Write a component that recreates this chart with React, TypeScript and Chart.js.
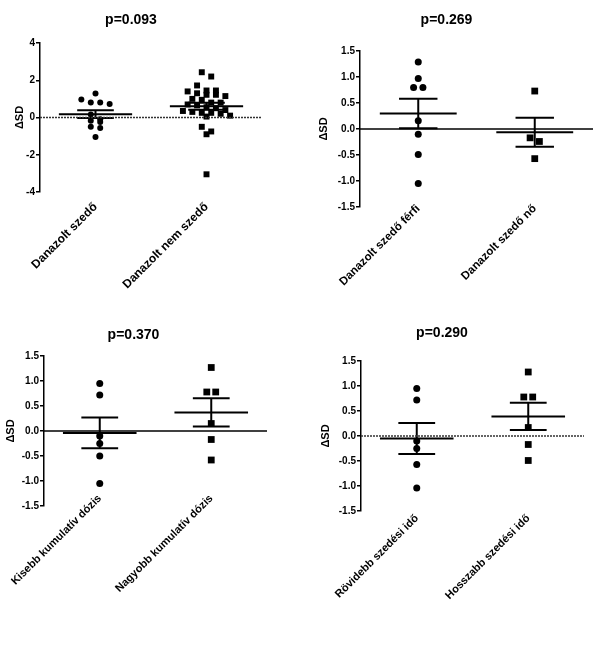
import React, { useEffect, useRef } from 'react';
import { Chart, registerables } from 'chart.js';

Chart.register(...registerables);

// ---------- data ----------
const titles = ['p=0.093', 'p=0.269', 'p=0.370', 'p=0.290'];

const labels1 = ['Danazolt szedő', 'Danazolt nem szedő'];
const labels2 = ['Danazolt szedő férfi', 'Danazolt szedő nő'];
const labels3 = ['Kisebb kumulatív dózis', 'Nagyobb kumulatív dózis'];
const labels4 = ['Rövidebb szedési idő', 'Hosszabb szedési idő'];

const danazoltSzedo = [1.29, 0.97, 0.8, 0.8, 0.73, 0.16, -0.1, -0.17, -0.24, -0.49, -0.57, -1.05];
const danazoltNemSzedo = [
  2.43, 2.2, 1.72, 1.45, 1.4, 1.45, 1.22, 1.22, 1.3, 1.15, 1.0, 0.95, 0.8, 0.8, 0.7,
  0.65, 0.55, 0.5, 0.4, 0.35, 0.3, 0.25, 0.2, 0.25, 0.1, 0.05, -0.75, -0.9, -0.5, -3.05,
];

const szedoFerfi = [1.29, 0.97, 0.8, 0.8, 0.16, -0.1, -0.49, -1.05];
const szedoNo = [0.73, -0.17, -0.24, -0.57];

const kisebbDozis = [0.95, 0.72, -0.1, -0.25, -0.5, -1.05];
const nagyobbDozis = [1.27, 0.78, 0.78, 0.15, -0.17, -0.58];

const rovidebbIdo = [0.95, 0.72, -0.1, -0.25, -0.57, -1.04];
const hosszabbIdo = [1.28, 0.78, 0.78, 0.17, -0.17, -0.49];

const yTicks1 = { min: -4, max: 4, step: 2, decimals: 0 };
const yTicks2 = { min: -1.5, max: 1.5, step: 0.5, decimals: 1 };

// ---------- helpers ----------
const mean = (a: number[]) => a.reduce((s, v) => s + v, 0) / a.length;
const sem = (a: number[]) => {
  const m = mean(a);
  const v = a.reduce((s, x) => s + (x - m) * (x - m), 0) / (a.length - 1);
  return Math.sqrt(v) / Math.sqrt(a.length);
};

function swarm(vals: number[], center: number, binY: number, stepX: number) {
  const sorted = [...vals].sort((a, b) => b - a);
  const pts: { x: number; y: number }[] = [];
  let i = 0;
  while (i < sorted.length) {
    let j = i;
    while (j < sorted.length && sorted[i] - sorted[j] < binY) j++;
    const n = j - i;
    for (let k = 0; k < n; k++) {
      pts.push({ x: center + (k - (n - 1) / 2) * stepX, y: sorted[i + k] });
    }
    i = j;
  }
  return pts;
}

type Panel = {
  title: string;
  labels: string[];
  groups: number[][];
  yt: { min: number; max: number; step: number; decimals: number };
  left: number;
  top: number;
  width: number;
  height: number;
  areaLeft: number;
  areaRight: number;
  areaTop: number;
  areaBottom: number;
  titleCenter: number;
  yTitleCenter: number;
  labelPad: number;
  labelSize: number;
  binY: number;
  stepX: number;
  circleR: number;
  rectR: number;
  zeroDashed: boolean;
};

const panels: Panel[] = [
  {
    title: titles[0], labels: labels1, groups: [danazoltSzedo, danazoltNemSzedo], yt: yTicks1,
    left: 0, top: 0, width: 300, height: 320,
    areaLeft: 40, areaRight: 262, areaTop: 43, areaBottom: 192, titleCenter: 20.5, yTitleCenter: 20,
    labelPad: 8, labelSize: 12, binY: 0.3, stepX: 0.085, circleR: 3, rectR: 4.2, zeroDashed: true,
  },
  {
    title: titles[1], labels: labels2, groups: [szedoFerfi, szedoNo], yt: yTicks2,
    left: 300, top: 0, width: 309, height: 320,
    areaLeft: 60, areaRight: 293, areaTop: 51, areaBottom: 207, titleCenter: 20.5, yTitleCenter: 23.5,
    labelPad: -5, labelSize: 11.5, binY: 0.12, stepX: 0.08, circleR: 3.5, rectR: 4.8, zeroDashed: false,
  },
  {
    title: titles[2], labels: labels3, groups: [kisebbDozis, nagyobbDozis], yt: yTicks2,
    left: 0, top: 320, width: 300, height: 332,
    areaLeft: 44, areaRight: 267, areaTop: 36, areaBottom: 186, titleCenter: 15, yTitleCenter: 10.5,
    labelPad: -14, labelSize: 11, binY: 0.12, stepX: 0.08, circleR: 3.5, rectR: 4.8, zeroDashed: false,
  },
  {
    title: titles[3], labels: labels4, groups: [rovidebbIdo, hosszabbIdo], yt: yTicks2,
    left: 300, top: 320, width: 309, height: 332,
    areaLeft: 61, areaRight: 284, areaTop: 41, areaBottom: 191, titleCenter: 13.5, yTitleCenter: 26,
    labelPad: 1, labelSize: 11, binY: 0.12, stepX: 0.08, circleR: 3.5, rectR: 4.8, zeroDashed: true,
  },
];

const FONT = 'Arial, "Liberation Sans", Helvetica, sans-serif';

function lineDs(data: { x: number; y: number }[], width = 2, color = '#000', dash: number[] = []) {
  return {
    data,
    showLine: true,
    borderColor: color,
    borderWidth: width,
    borderDash: dash,
    pointRadius: 0,
    pointHoverRadius: 0,
    fill: false,
  };
}

function buildConfig(p: Panel): any {
  const datasets: any[] = [];
  datasets.push(
    lineDs([{ x: -0.5, y: 0 }, { x: 1.5, y: 0 }], 1.5, p.zeroDashed ? '#333' : '#000', p.zeroDashed ? [2, 1] : [])
  );
  p.groups.forEach((vals, gi) => {
    datasets.push({
      data: swarm(vals, gi, p.binY, p.stepX),
      pointStyle: gi === 0 ? 'circle' : 'rect',
      pointRadius: gi === 0 ? p.circleR : p.rectR,
      pointHoverRadius: gi === 0 ? p.circleR : p.rectR,
      backgroundColor: '#000',
      borderColor: '#000',
      borderWidth: 0,
      showLine: false,
    });
  });
  p.groups.forEach((vals, gi) => {
    const m = mean(vals);
    const s = sem(vals);
    datasets.push(lineDs([{ x: gi - 0.33, y: m }, { x: gi + 0.33, y: m }]));
    datasets.push(lineDs([{ x: gi, y: m - s }, { x: gi, y: m + s }]));
    datasets.push(lineDs([{ x: gi - 0.165, y: m + s }, { x: gi + 0.165, y: m + s }]));
    datasets.push(lineDs([{ x: gi - 0.165, y: m - s }, { x: gi + 0.165, y: m - s }]));
  });

  const titleLH = 14 * 1.2;
  const titlePadTop = p.titleCenter - titleLH / 2;
  const titlePadBottom = p.areaTop - titlePadTop - titleLH;
  const yTitleLH = 11 * 1.2;

  return {
    type: 'scatter',
    data: { datasets },
    options: {
      animation: false,
      responsive: false,
      maintainAspectRatio: false,
      events: [],
      layout: { padding: { left: 0, top: 0, bottom: 0, right: p.width - p.areaRight } },
      plugins: {
        legend: { display: false },
        tooltip: { enabled: false },
        title: {
          display: true,
          text: p.title,
          color: '#000',
          font: { family: FONT, size: 14, weight: 'bold' },
          padding: { top: titlePadTop, bottom: titlePadBottom },
        },
      },
      scales: {
        x: {
          type: 'linear',
          min: -0.5,
          max: 1.5,
          afterBuildTicks: (s: any) => {
            s.ticks = [{ value: 0 }, { value: 1 }];
          },
          afterFit: (s: any) => {
            s.height = p.height - p.areaBottom;
            // let rotated labels extend above the scale box without clipping
            s._computeLabelArea = () => undefined;
          },
          ticks: {
            autoSkip: false,
            minRotation: 45,
            maxRotation: 45,
            padding: p.labelPad,
            color: '#000',
            font: { family: FONT, size: p.labelSize, weight: 'bold' },
            callback: (v: any) => p.labels[Math.round(Number(v))],
          },
          grid: { display: false, drawTicks: false },
          border: { display: false },
        },
        y: {
          type: 'linear',
          min: p.yt.min,
          max: p.yt.max,
          afterFit: (s: any) => {
            s.width = p.areaLeft;
          },
          ticks: {
            stepSize: p.yt.step,
            padding: 1,
            color: '#000',
            font: { family: FONT, size: 10, weight: 'bold' },
            callback: (v: any) => Number(v).toFixed(p.yt.decimals),
          },
          grid: { drawOnChartArea: false, drawTicks: true, tickLength: 4, color: '#000', lineWidth: 1.5 },
          border: { display: true, color: '#000', width: 1.5 },
          title: {
            display: true,
            text: 'ΔSD',
            color: '#000',
            font: { family: FONT, size: 11, weight: 'bold' },
            padding: { top: p.yTitleCenter - yTitleLH / 2, bottom: 0 },
          },
        },
      },
    },
  };
}

function PanelChart({ p }: { p: Panel }) {
  const ref = useRef<HTMLCanvasElement | null>(null);
  useEffect(() => {
    if (!ref.current) return;
    const chart = new Chart(ref.current, buildConfig(p));
    return () => chart.destroy();
  }, [p]);
  return (
    <canvas
      ref={ref}
      width={p.width}
      height={p.height}
      style={{ position: 'absolute', left: p.left, top: p.top, width: p.width, height: p.height, display: 'block' }}
    />
  );
}

export default function App() {
  return (
    <div style={{ position: 'absolute', left: 0, top: 0, width: 609, height: 652, background: '#fff' }}>
      {panels.map((p, i) => (
        <PanelChart key={i} p={p} />
      ))}
    </div>
  );
}
